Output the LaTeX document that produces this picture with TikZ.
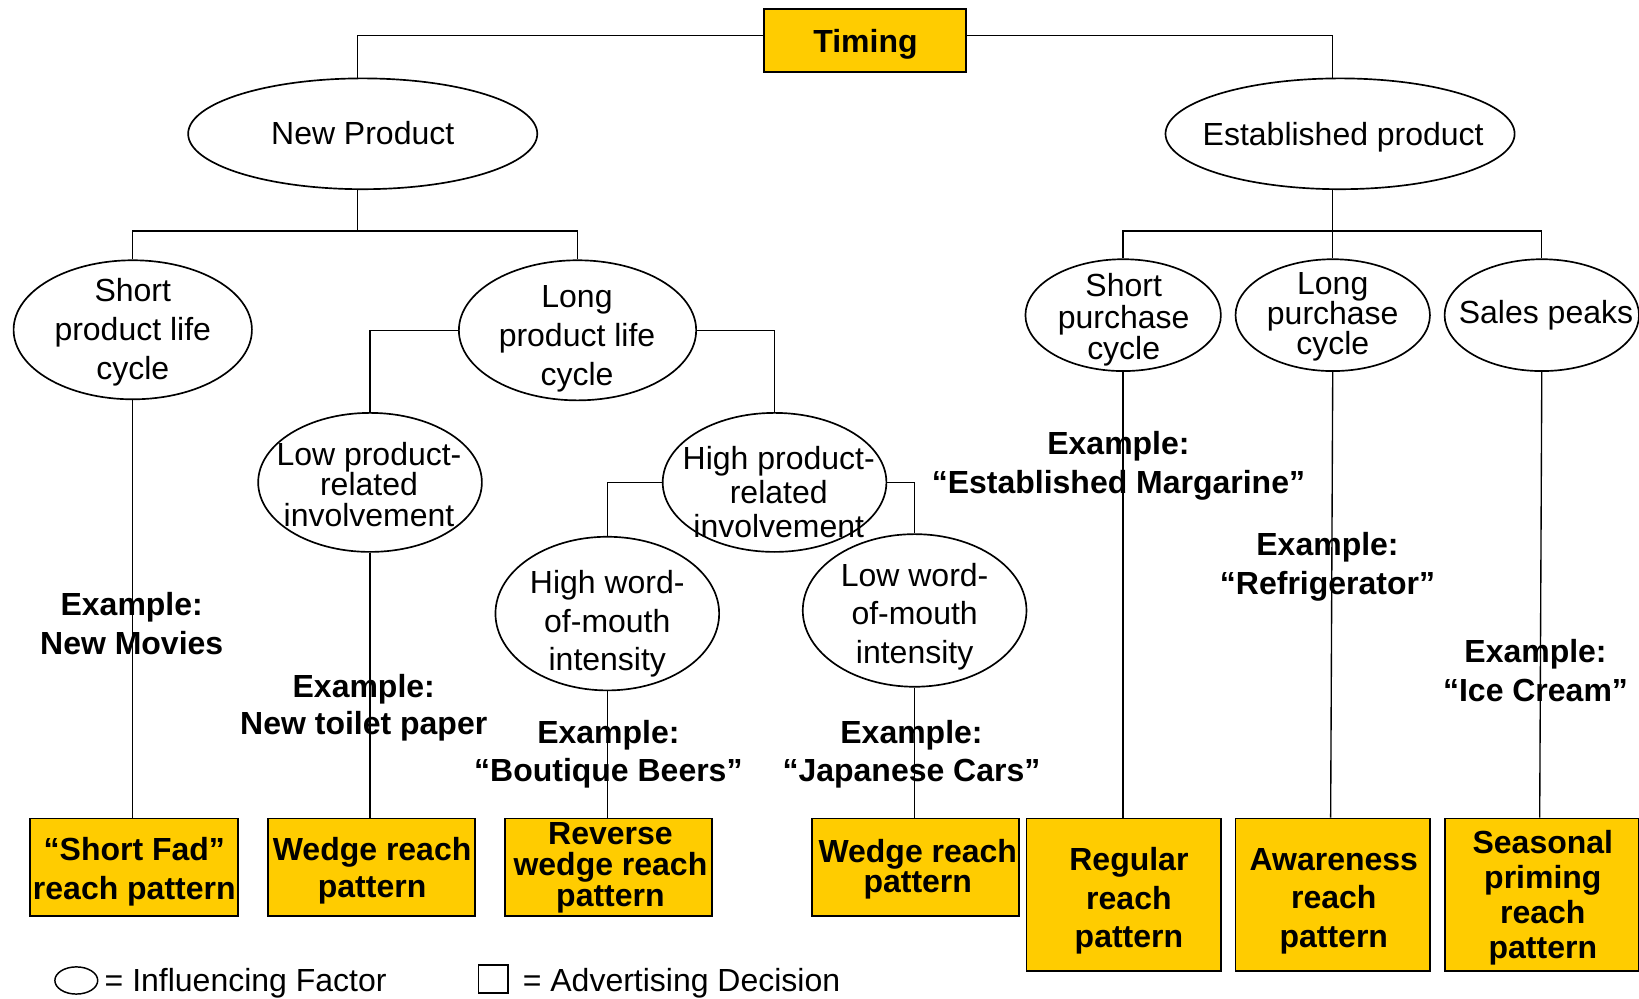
\documentclass[tikz,border=0pt]{standalone}
\usepackage{fontspec}
\setmainfont{Liberation Sans}
\usetikzlibrary{shapes.geometric}
\definecolor{gold}{HTML}{FFCC00}
\begin{document}
\begin{tikzpicture}[x=1pt,y=-1pt,
  factor/.style={draw, ellipse, line width=1.6pt, inner sep=0pt},
  decision/.style={draw, rectangle, line width=1.8pt, fill=gold, inner sep=0pt},
  link/.style={line width=1.3pt},
  txt/.style={inner sep=0pt, align=center, font=\fontsize{30.6}{37}\selectfont},
  lsk/.style={font=\fontsize{30.6}{#1}\selectfont},
  btxt/.style={inner sep=0pt, align=center, font=\bfseries\fontsize{30.6}{37}\selectfont},
  blsk/.style={font=\bfseries\fontsize{30.6}{#1}\selectfont}]
\useasboundingbox (0,0) rectangle (1568,955);

% root
\node[decision, minimum width=193pt, minimum height=60pt] (timing) at (827.5,39) {};
\node[btxt] (timingT) at (828,42.5) {Timing};

% influencing factors
\node[factor, minimum width=334pt, minimum height=106pt] (np) at (347,128) {};
\node[factor, minimum width=334pt, minimum height=106pt] (ep) at (1282,128) {};
\node[factor, minimum width=228pt, minimum height=133pt] (spl) at (127,315.5) {};
\node[factor, minimum width=227pt, minimum height=134pt] (lpl) at (552.5,316) {};
\node[factor, minimum width=214pt, minimum height=133pt] (lpr) at (354,461.5) {};
\node[factor, minimum width=214pt, minimum height=133pt] (hpr) at (741,461.5) {};
\node[factor, minimum width=214pt, minimum height=147pt] (hwm) at (581,587) {};
\node[factor, minimum width=214pt, minimum height=146pt] (lwm) at (875,584) {};
\node[factor, minimum width=187pt, minimum height=107pt] (spc) at (1074.5,301.5) {};
\node[factor, minimum width=186pt, minimum height=107pt] (lpc) at (1275,301.5) {};
\node[factor, minimum width=186pt, minimum height=107pt] (spk) at (1475,301.5) {};

\node[txt] (npT) at (347,127) {New Product};
\node[txt] (epT) at (1285,131) {Established product};
\node[txt] (splT) at (127,318) {Short\\product life\\cycle};
\node[txt] (lplT) at (552,324) {Long\\product life\\cycle};
\node[txt, lsk=29.5] (lprT) at (353,463.5) {Low product-\\related\\involvement};
\node[txt, lsk=32.5] (hprT) at (745,470.5) {High product-\\related\\involvement};
\node[txt] (hwmT) at (581,597) {High word-\\of-mouth\\intensity};
\node[txt] (lwmT) at (875,590) {Low word-\\of-mouth\\intensity};
\node[txt, lsk=30] (spcT) at (1075,306) {Short\\purchase\\cycle};
\node[txt, lsk=29] (lpcT) at (1275,303) {Long\\purchase\\cycle};
\node[txt] (spkT) at (1479,302) {Sales peaks};

% advertising decisions
\node[decision, minimum width=199pt, minimum height=93pt] (b1) at (128.5,829.5) {};
\node[decision, minimum width=198pt, minimum height=93pt] (b2) at (355,829.5) {};
\node[decision, minimum width=198pt, minimum height=93pt] (b3) at (582,829.5) {};
\node[decision, minimum width=198pt, minimum height=93pt] (b4) at (876,829.5) {};
\node[decision, minimum width=186pt, minimum height=146pt] (b5) at (1075,856) {};
\node[decision, minimum width=186pt, minimum height=146pt] (b6) at (1275,856) {};
\node[decision, minimum width=186pt, minimum height=146pt] (b7) at (1475,856) {};

\node[btxt, blsk=38] (b1T) at (128.5,834) {“Short Fad”\\reach pattern};
\node[btxt, blsk=36] (b2T) at (356,833) {Wedge reach\\pattern};
\node[btxt, blsk=29.5] (b3T) at (584,830.5) {Reverse\\wedge reach\\pattern};
\node[btxt, blsk=29] (b4T) at (878,831.5) {Wedge reach\\pattern};
\node[btxt] (b5T) at (1080,862) {Regular\\reach\\pattern};
\node[btxt] (b6T) at (1276,862) {Awareness\\reach\\pattern};
\node[btxt, blsk=33.3] (b7T) at (1476,859) {Seasonal\\priming\\reach\\pattern};

% connectors
\coordinate (njoin) at (342,221);
\draw[link] ([yshift=5pt]timing.west) -| ([xshift=-5pt]np.north);
\draw[link] ([yshift=5pt]timing.east) -| (lpc.north |- ep.north);
\draw[link] ([xshift=-5pt]np.south) -- (njoin);
\draw[link] (spl.north) -- (spl.north |- njoin) -- (lpl.north |- njoin) -- (lpl.north);
\draw[link] (lpc.north |- ep.south) -- (lpc.north);
\draw[link] (spc.north) -- (spc.north |- njoin) -- (spk.north |- njoin) -- (spk.north);
\draw[link] (lpl.west) -| (lpr.north);
\draw[link] (lpl.east) -| (hpr.north);
\draw[link] (hpr.west) -| (hwm.north);
\draw[link] (hpr.east) -| (lwm.north);
\draw[link] (spl.south) -- (spl.south |- b1.north);
\draw[link] (lpr.south) -- (lpr.south |- b2.north);
\draw[link] (hwm.south) -- (hwm.south |- b3.north);
\draw[link] (lwm.south) -- (lwm.south |- b4.north);
\draw[link] (spc.south) -- (spc.south |- b5.north);
\draw[link] (lpc.south) -- ([xshift=-2pt]lpc.south |- b6.north);
\draw[link] (spk.south) -- ([xshift=-2pt]spk.south |- b7.north);

% examples
\node[btxt] (e1) at (126,596.5) {Example:\\New Movies};
\node[btxt, blsk=36] (e2) at (348,677) {Example:\\New toilet paper};
\node[btxt] (e3) at (582,721.5) {Example:\\“Boutique Beers”};
\node[btxt] (e4) at (872,721.5) {Example:\\“Japanese Cars”};
\node[btxt] (e5) at (1070,445.5) {Example:\\“Established Margarine”};
\node[btxt] (e6) at (1270,542.5) {Example:\\“Refrigerator”};
\node[btxt] (e7) at (1469,641.5) {Example:\\“Ice Cream”};

% legend
\node[draw, ellipse, line width=1.4pt, inner sep=0pt, minimum width=41pt, minimum height=26pt] (keyE) at (73,938) {};
\node[txt, anchor=west] (keyET) at (100,940.5) {= Influencing Factor};
\node[draw, rectangle, line width=1.4pt, inner sep=0pt, minimum width=28pt, minimum height=27pt] (keyR) at (472,936.5) {};
\node[txt, anchor=west] (keyRT) at (500,940.5) {= Advertising Decision};
\end{tikzpicture}
\end{document}
